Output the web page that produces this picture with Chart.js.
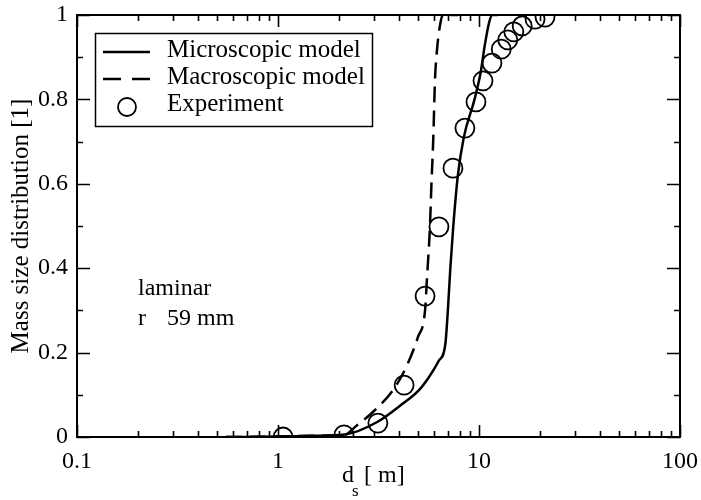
<!DOCTYPE html>
<html>
<head>
<meta charset="utf-8">
<script src="https://cdn.jsdelivr.net/npm/chart.js@4/dist/chart.umd.min.js"></script>
<style>
html,body{margin:0;padding:0;background:#fff;}
#wrap{width:701px;height:500px;position:relative;}
</style>
</head>
<body>
<div id="wrap"><canvas id="c" width="701" height="500"></canvas></div>
<script>
// ---- data ----
const microX = [0.55, 1.0, 1.5, 2.15, 3.1, 4.2, 5.0, 5.6, 6.3, 6.8, 7.0, 7.2, 7.45, 7.85, 8.4, 9.5, 10.2, 10.7, 11.2, 11.6, 12.4];
const microY = [0.0, 0.001, 0.003, 0.006, 0.035, 0.08, 0.11, 0.14, 0.18, 0.22, 0.30, 0.40, 0.50, 0.62, 0.71, 0.80, 0.865, 0.93, 0.98, 1.0, 1.0];
const macroX = [0.55, 1.0, 1.5, 2.15, 2.42, 3.04, 3.82, 4.43, 4.97, 5.39, 5.5, 5.7, 5.8, 5.92, 6.04, 6.18, 6.4, 6.62, 7.86];
const macroY = [0.0, 0.001, 0.003, 0.005, 0.024, 0.064, 0.118, 0.175, 0.237, 0.30, 0.37, 0.498, 0.60, 0.704, 0.846, 0.917, 0.976, 1.0, 1.0];
const expX = [1.06, 2.13, 3.14, 4.24, 5.39, 6.32, 7.42, 8.51, 9.66, 10.47, 11.6, 12.9, 13.9, 14.9, 16.4, 19.0, 21.3];
const expY = [0.0, 0.005, 0.033, 0.123, 0.334, 0.498, 0.637, 0.732, 0.794, 0.844, 0.886, 0.919, 0.941, 0.96, 0.974, 0.99, 0.995];
const xTickValues = [0.1,0.2,0.3,0.4,0.5,0.6,0.7,0.8,0.9,1,2,3,4,5,6,7,8,9,10,20,30,40,50,60,70,80,90,100];
const xTickLabels = {"0.1":"0.1","1":"1","10":"10","100":"100"};
const yTickLabels = ["0","0.2","0.4","0.6","0.8","1"];
const seriesNames = ["Microscopic model","Macroscopic model","Experiment"];
const xTitle = ["d","s","[ m]"];
const yTitle = "Mass size distribution [1]";
const notes = ["laminar","r","59 mm"];

const FONT = "'Liberation Serif','DejaVu Serif',serif";
const toPts = (xs, ys) => xs.map((x, i) => ({x: x, y: ys[i]}));

const isDecade = v => Math.abs(Math.log10(v) - Math.round(Math.log10(v))) < 1e-9;

const decorPlugin = {
  id: 'decor',
  afterDraw(chart) {
    const ctx = chart.ctx;
    const a = chart.chartArea;
    const xs = chart.scales.x, ys = chart.scales.y;
    ctx.save();
    ctx.strokeStyle = '#000';
    // frame
    ctx.lineWidth = 2;
    ctx.strokeRect(a.left, a.top, a.right - a.left, a.bottom - a.top);
    // x ticks (bottom & top, inward)
    ctx.lineWidth = 1.6;
    ctx.beginPath();
    xs.ticks.forEach(t => {
      const px = Math.round(xs.getPixelForValue(t.value)) + 0.5;
      const len = isDecade(t.value) ? 12 : 6;
      ctx.moveTo(px, a.bottom); ctx.lineTo(px, a.bottom - len);
      ctx.moveTo(px, a.top); ctx.lineTo(px, a.top + len);
    });
    ys.ticks.forEach(t => {
      const py = Math.round(ys.getPixelForValue(t.value)) + 0.5;
      const major = Math.round(t.value * 10) % 2 === 0;
      const len = major ? 13 : 6;
      ctx.moveTo(a.left, py); ctx.lineTo(a.left + len, py);
      ctx.moveTo(a.right, py); ctx.lineTo(a.right - len, py);
    });
    ctx.stroke();

    // x axis title with subscript
    ctx.fillStyle = '#000';
    ctx.textBaseline = 'alphabetic';
    ctx.textAlign = 'left';
    ctx.font = '24px ' + FONT;
    ctx.fillText(xTitle[0], 342, 482);
    ctx.font = '17px ' + FONT;
    ctx.fillText(xTitle[1], 352, 496);
    ctx.font = '24px ' + FONT;
    ctx.fillText(xTitle[2], 364, 482);

    // notes
    ctx.fillText(notes[0], 138, 295);
    ctx.fillText(notes[1], 138, 325);
    ctx.fillText(notes[2], 167, 325);

    // legend
    ctx.fillStyle = '#fff';
    ctx.fillRect(95, 33, 278, 94);
    ctx.lineWidth = 1.5;
    ctx.strokeRect(95.5, 33.5, 277, 93);
    ctx.lineWidth = 2.5;
    ctx.beginPath(); ctx.moveTo(103, 52); ctx.lineTo(150, 52); ctx.stroke();
    ctx.setLineDash([18, 11]);
    ctx.beginPath(); ctx.moveTo(103, 79); ctx.lineTo(150, 79); ctx.stroke();
    ctx.setLineDash([]);
    ctx.lineWidth = 1.8;
    ctx.beginPath(); ctx.arc(127, 107, 9, 0, Math.PI * 2); ctx.stroke();
    ctx.fillStyle = '#000';
    ctx.font = '25px ' + FONT;
    ctx.fillText(seriesNames[0], 167, 57);
    ctx.fillText(seriesNames[1], 167, 84);
    ctx.fillText(seriesNames[2], 167, 111);
    ctx.restore();
  }
};

new Chart(document.getElementById('c'), {
  type: 'line',
  data: {
    datasets: [
      {label: seriesNames[0], data: toPts(microX, microY), borderColor: '#000', borderWidth: 2.5,
       pointRadius: 0, fill: false, cubicInterpolationMode: 'monotone'},
      {label: seriesNames[1], data: toPts(macroX, macroY), borderColor: '#000', borderWidth: 2.5,
       borderDash: [16, 8], pointRadius: 0, fill: false, cubicInterpolationMode: 'monotone'},
      {label: seriesNames[2], data: toPts(expX, expY), showLine: false, borderColor: '#000',
       backgroundColor: 'rgba(0,0,0,0)', pointRadius: 9.5, pointBorderWidth: 1.8, pointStyle: 'circle'}
    ]
  },
  options: {
    responsive: false,
    animation: false,
    devicePixelRatio: 1,
    layout: {padding: {top: 15, right: 21, left: 0, bottom: 0}},
    plugins: {legend: {display: false}, tooltip: {enabled: false}},
    scales: {
      x: {
        type: 'logarithmic', min: 0.1, max: 100,
        grid: {display: false, drawTicks: false},
        border: {display: false},
        afterBuildTicks: s => { s.ticks = xTickValues.map(v => ({value: v})); },
        afterFit: s => { s.height = 63; s.paddingLeft = 0; s.paddingRight = 0; },
        ticks: {
          autoSkip: false, maxRotation: 0, padding: 10, color: '#000',
          font: {family: FONT, size: 24},
          callback: v => { const k = String(v); return xTickLabels[k] !== undefined && isDecade(v) ? xTickLabels[k] : ''; }
        },
        title: {display: false}
      },
      y: {
        type: 'linear', min: 0, max: 1,
        grid: {display: false, drawTicks: false},
        border: {display: false},
        afterFit: s => { s.width = 77; s.paddingTop = 0; s.paddingBottom = 0; },
        ticks: {
          stepSize: 0.1, autoSkip: false, padding: 9, color: '#000',
          font: {family: FONT, size: 24},
          callback: v => { const n = Math.round(v * 10); return n % 2 === 0 ? yTickLabels[n / 2] : ''; }
        },
        title: {display: true, text: yTitle, color: '#000', font: {family: FONT, size: 25}, padding: {top: 6, bottom: 0}}
      }
    }
  },
  plugins: [decorPlugin]
});
</script>
</body>
</html>
